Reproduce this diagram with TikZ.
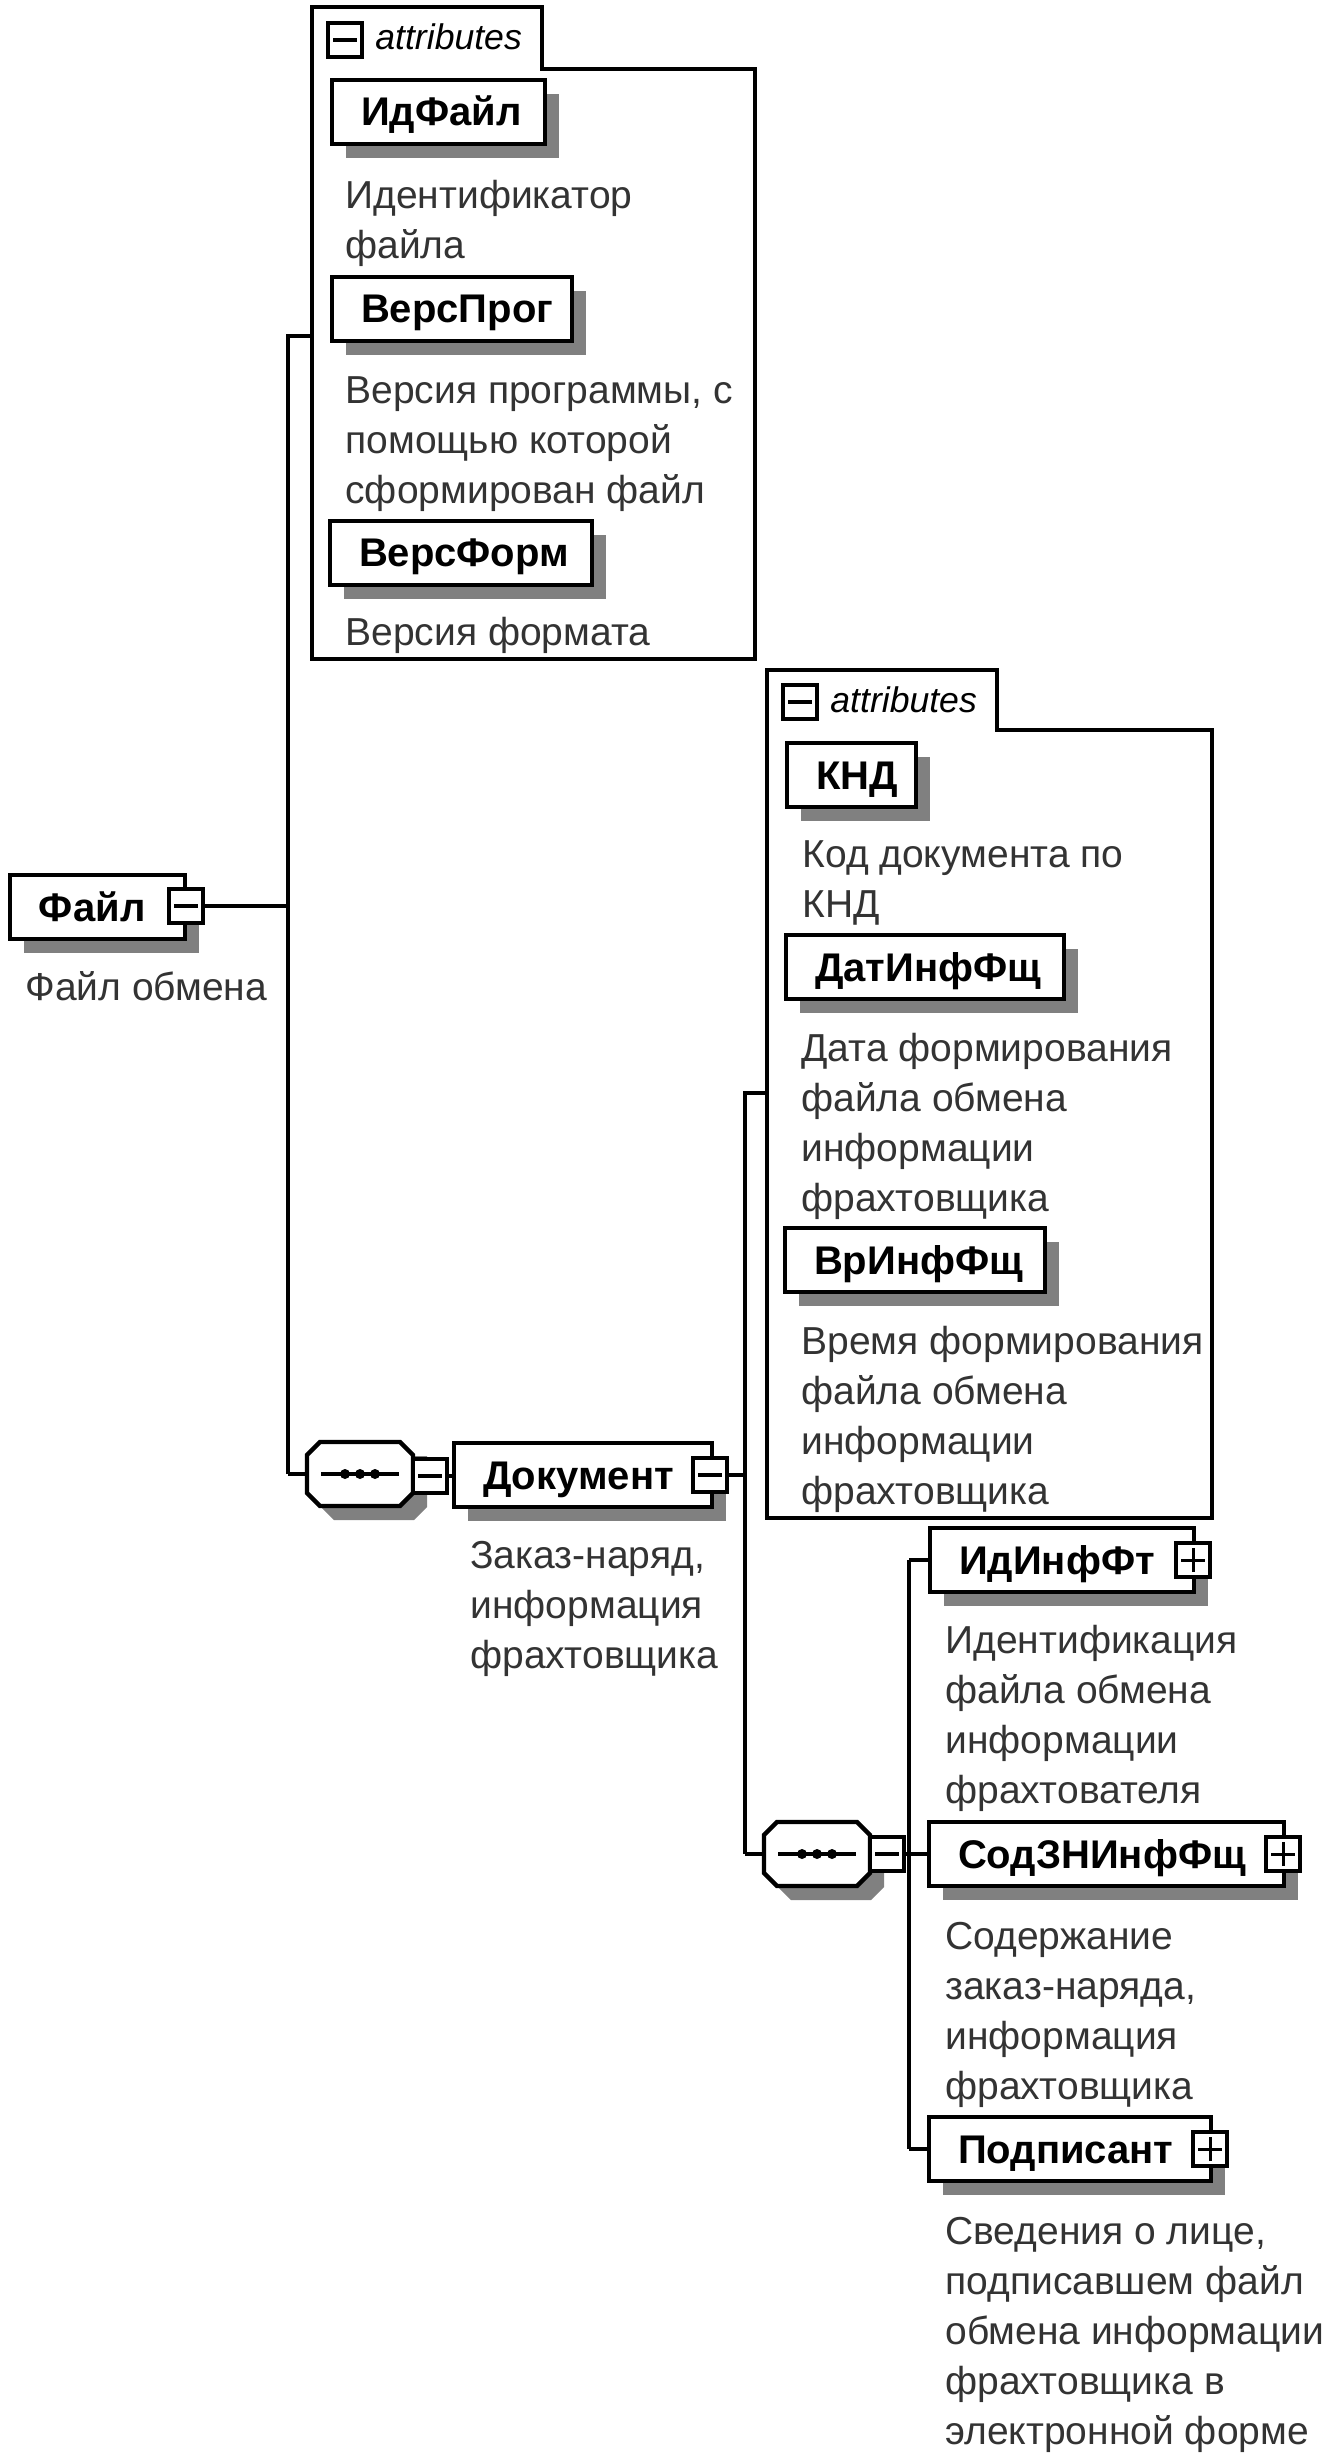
\documentclass[tikz,border=0pt]{standalone}
\usepackage{fontspec}
\setmainfont{Liberation Sans}
\usetikzlibrary{shadows}
\tikzset{
	conn/.style={line width=2pt},
	outline/.style={line width=2pt, line join=miter},
	elem/.style={draw, line width=2.2pt, fill=white, rectangle, anchor=north west, outer sep=0pt,
		inner xsep=0pt, inner ysep=0pt, text height=23pt, text depth=9pt, align=left,
		font=\fontsize{20}{25}\selectfont\bfseries, execute at begin node={\hskip 14.5pt},
		drop shadow={shadow xshift=7pt, shadow yshift=-7pt, fill=black!50, opacity=1}},
	descr/.style={anchor=base west, align=left, inner sep=0pt, text=black!80,
		font=\fontsize{19.5}{25}\selectfont},
	seq/.pic={
		\fill [black!50] ( -39, -18 ) -- ( 67, -18 ) -- ( 67, 33 ) -- ( 54, 46 ) -- ( -26, 46 ) -- ( -39, 33 ) -- cycle;
		\draw [line width=2.2pt, fill=white] ( -40, -32 ) -- ( 40, -32 ) -- ( 53, -19 ) -- ( 53, 19 ) -- ( 40, 32 ) -- ( -40, 32 ) -- ( -53, 19 ) -- ( -53, -19 ) -- cycle;
		\draw [line width=2pt] ( -39, 0 ) -- ( 39, 0 );
		\fill ( -15, 0 ) circle [radius=2.5pt];
		\fill ( 0, 0 ) circle [radius=2.5pt];
		\fill ( 15, 0 ) circle [radius=2.5pt];
		\coordinate (-west) at ( -53, 0 );
	},
	btn/.style={draw, line width=2pt, fill=white, rectangle, minimum size=17pt, inner sep=0pt, outer sep=0pt},
	btnminus/.style={btn, path picture={
			\draw [line width=2pt] ([xshift=-6pt]path picture bounding box.center) -- ([xshift=6pt]path picture bounding box.center);
		}},
	btnplus/.style={btn, path picture={
			\draw [line width=1.5pt] ([xshift=-6pt]path picture bounding box.center) -- ([xshift=6pt]path picture bounding box.center);
			\draw [line width=1.5pt] ([yshift=-6pt]path picture bounding box.center) -- ([yshift=6pt]path picture bounding box.center);
		}},
	attrlabel/.style={anchor=base west, inner sep=0pt, font=\fontsize{17.8}{20}\selectfont\itshape}
}
\begin{document}
\begin{tikzpicture}[x=0.5pt, y=-0.5pt]
	\useasboundingbox ( 0, 0 ) rectangle ( 1325, 2460 );
	\fill [white] ( 0, 0 ) rectangle ( 1325, 2460 );

	% точки ветвления
	\coordinate (attrsa) at ( 312, 336 );
	\coordinate (busatop) at ( 288, 336 );
	\coordinate (busafile) at ( 288, 906 );
	\coordinate (busabot) at ( 288, 1474 );
	\coordinate (attrsb) at ( 767, 1093 );
	\coordinate (busbtop) at ( 745, 1093 );
	\coordinate (busbdoc) at ( 745, 1475 );
	\coordinate (busbbot) at ( 745, 1854 );
	\coordinate (buscid) at ( 909, 1560 );
	\coordinate (buscsod) at ( 909, 1854 );
	\coordinate (buscpod) at ( 909, 2149 );

	% Файл
	\node [elem, text width=87.5pt] (file) at ( 10, 875 ) {Файл};
	\node [btnminus] (filebtn) at ( 186, 906 ) {};
	\node [descr] (filedescr) at ( 25, 1000 ) {Файл обмена};
	\draw [conn] (filebtn.east) -- (busafile);

	% attributes файла
	\draw [outline] ( 312, 7 ) -- ( 542, 7 ) -- ( 542, 69 ) -- ( 755, 69 ) -- ( 755, 659 ) -- ( 312, 659 ) -- cycle;
	\node [btnminus] (attrsabtn) at ( 345, 40 ) {};
	\node [attrlabel] (attrsalabel) at ( 375, 50 ) {attributes};
	\node [elem, text width=106.5pt] (idfile) at ( 332, 80 ) {ИдФайл};
	\node [descr] (idfiledescr) at ( 345, 259 ) {Идентификатор\\файла};
	\node [elem, text width=120pt] (versprog) at ( 332, 277 ) {ВерсПрог};
	\node [descr] (versprogdescr) at ( 345, 504 ) {Версия программы, с\\помощью которой\\сформирован файл};
	\node [elem, text width=131pt] (versform) at ( 330, 521 ) {ВерсФорм};
	\node [descr] (versformdescr) at ( 345, 646 ) {Версия формата};

	% Документ
	\draw [conn] (attrsa) -- (busatop) -- (busabot);
	\pic (seqdoc) at ( 360, 1474 ) {seq};
	\node [btnminus] (seqdocbtn) at ( 430, 1476 ) {};
	\node [elem, text width=129pt] (document) at ( 454, 1443 ) {Документ};
	\node [btnminus] (documentbtn) at ( 710, 1475 ) {};
	\node [descr] (documentdescr) at ( 470, 1668 ) {Заказ-наряд,\\информация\\фрахтовщика};
	\draw [conn] (busabot) -- (seqdoc-west);
	\draw [conn] (seqdocbtn.east) -- (document.west |- seqdocbtn.east);
	\draw [conn] (documentbtn.east) -- (busbdoc);

	% attributes документа
	\draw [outline] ( 767, 670 ) -- ( 997, 670 ) -- ( 997, 730 ) -- ( 1212, 730 ) -- ( 1212, 1518 ) -- ( 767, 1518 ) -- cycle;
	\node [btnminus] (attrsbbtn) at ( 800, 702 ) {};
	\node [attrlabel] (attrsblabel) at ( 830, 712 ) {attributes};
	\node [elem, text width=64.5pt] (knd) at ( 787, 743 ) {КНД};
	\node [descr] (knddescr) at ( 802, 917 ) {Код документа по\\КНД};
	\node [elem, text width=139pt] (datinf) at ( 786, 935 ) {ДатИнфФщ};
	\node [descr] (datinfdescr) at ( 801, 1211 ) {Дата формирования\\файла обмена\\информации\\фрахтовщика};
	\node [elem, text width=130pt] (vrinf) at ( 785, 1228 ) {ВрИнфФщ};
	\node [descr] (vrinfdescr) at ( 801, 1504 ) {Время формирования\\файла обмена\\информации\\фрахтовщика};
	\draw [conn] (attrsb) -- (busbtop) -- (busbbot);

	% состав документа
	\draw [conn] (buscid) -- (buscpod);
	\pic (seqbody) at ( 817, 1854 ) {seq};
	\node [btnminus] (seqbodybtn) at ( 887, 1854 ) {};
	\draw [conn] (busbbot) -- (seqbody-west);
	\draw [conn] (seqbodybtn.east) -- (buscsod);

	\node [elem, text width=132pt] (idinf) at ( 930, 1528 ) {ИдИнфФт};
	\node [btnplus] (idinfbtn) at ( 1193, 1560 ) {};
	\node [descr] (idinfdescr) at ( 945, 1803 ) {Идентификация\\файла обмена\\информации\\фрахтователя};
	\draw [conn] (buscid) -- (idinf.west |- buscid);

	\node [elem, text width=177.5pt] (sodzn) at ( 929, 1822 ) {СодЗНИнфФщ};
	\node [btnplus] (sodznbtn) at ( 1283, 1854 ) {};
	\node [descr] (sodzndescr) at ( 945, 2099 ) {Содержание\\заказ-наряда,\\информация\\фрахтовщика};
	\draw [conn] (buscsod) -- (sodzn.west |- buscsod);

	\node [elem, text width=141pt] (podp) at ( 929, 2117 ) {Подписант};
	\node [btnplus] (podpbtn) at ( 1210, 2149 ) {};
	\node [descr] (podpdescr) at ( 945, 2444 ) {Сведения о лице,\\подписавшем файл\\обмена информации\\фрахтовщика в\\электронной форме};
	\draw [conn] (buscpod) -- (podp.west |- buscpod);
\end{tikzpicture}
\end{document}
